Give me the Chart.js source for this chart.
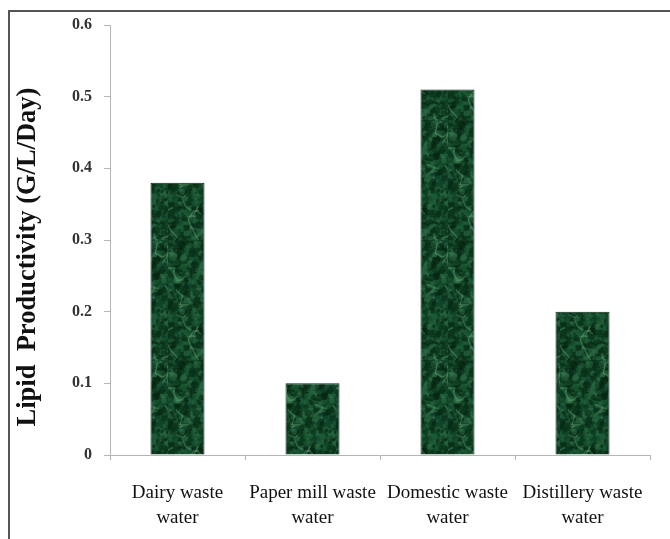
<!DOCTYPE html>
<html>
<head>
<meta charset="utf-8">
<script src="https://cdn.jsdelivr.net/npm/chart.js@4/dist/chart.umd.min.js"></script>
<style>
  html, body { margin: 0; padding: 0; background: #fff; }
  #wrap { position: relative; width: 670px; height: 539px; }
  #frame { position: absolute; left: 8px; top: 10px; right: 0; bottom: 0;
           border-left: 2px solid #555; border-top: 2px solid #555; pointer-events: none; }
  canvas { position: absolute; left: 0; top: 0; }
</style>
</head>
<body>
<div id="wrap">
  <canvas id="chart" width="670" height="539"></canvas>
  <div id="frame"></div>
</div>
<script>
const categories = [
  ["Dairy waste", "water"],
  ["Paper mill waste", "water"],
  ["Domestic waste", "water"],
  ["Distillery waste", "water"]
];
const lipidProductivity = [0.38, 0.10, 0.51, 0.20];
const yTicks = [0, 0.1, 0.2, 0.3, 0.4, 0.5, 0.6];
const yTitle = 'Lipid  Productivity (G/L/Day)';

// mossy dark green texture for the bars (seeded so it is the same every run)
function makeTexture(ctx) {
  const c = document.createElement('canvas');
  c.width = 56; c.height = 120;
  const g = c.getContext('2d');
  g.fillStyle = '#11432a';
  g.fillRect(0, 0, c.width, c.height);
  let seed = 11;
  const rnd = () => { seed = (seed * 16807) % 2147483647; return seed / 2147483647; };
  const tones = ['rgba(6,34,16,0.55)', 'rgba(30,95,55,0.45)', 'rgba(10,52,26,0.6)', 'rgba(60,130,85,0.3)'];
  for (let i = 0; i < 900; i++) {
    g.fillStyle = tones[Math.floor(rnd() * tones.length)];
    g.beginPath();
    g.arc(rnd() * 56, rnd() * 120, 1 + rnd() * 3, 0, Math.PI * 2);
    g.fill();
  }
  g.strokeStyle = 'rgba(120,185,135,0.35)';
  g.lineWidth = 1.5;
  g.lineCap = 'round';
  for (let i = 0; i < 12; i++) {
    g.beginPath();
    let x = rnd() * 56, y = rnd() * 120;
    g.moveTo(x, y);
    for (let k = 0; k < 5; k++) {
      x += (rnd() - 0.5) * 14; y += (rnd() - 0.3) * 14;
      g.lineTo(x, y);
    }
    g.stroke();
  }
  return ctx.createPattern(c, 'repeat');
}

const ctx = document.getElementById('chart').getContext('2d');
const serif = '"Liberation Serif", "DejaVu Serif", serif';

// y title drawn a little below the plot's middle, as in the source figure
const yTitlePlugin = {
  id: 'yTitle',
  afterDraw(chart) {
    const c = chart.ctx;
    c.save();
    c.translate(28, 257);
    c.rotate(-Math.PI / 2);
    c.font = 'bold 26.5px ' + serif;
    c.fillStyle = '#111';
    c.textAlign = 'center';
    c.textBaseline = 'middle';
    c.fillText(yTitle, 0, 0);
    c.restore();
  }
};

new Chart(ctx, {
  type: 'bar',
  data: {
    labels: categories,
    datasets: [{
      data: lipidProductivity,
      backgroundColor: makeTexture(ctx),
      borderColor: '#0a2614',
      borderWidth: 1,
      categoryPercentage: 1,
      barPercentage: 0.4
    }]
  },
  plugins: [yTitlePlugin],
  options: {
    animation: false,
    responsive: false,
    layout: { padding: { top: 25, right: 20, left: 0, bottom: 0 } },
    plugins: { legend: { display: false }, tooltip: { enabled: false } },
    scales: {
      x: {
        afterFit: s => { s.height = 84; },
        border: { color: '#b5b5b5', width: 1 },
        grid: { display: true, drawOnChartArea: false, drawTicks: true, tickLength: 5, color: '#b5b5b5', offset: true },
        ticks: { color: '#111', font: { family: serif, size: 19, lineHeight: 1.32 }, padding: 20, maxRotation: 0, autoSkip: false }
      },
      y: {
        min: 0, max: 0.6,
        afterFit: s => { s.width = 110; },
        afterBuildTicks: s => { s.ticks = yTicks.map(v => ({ value: v })); },
        border: { color: '#b5b5b5', width: 1 },
        grid: { display: true, drawOnChartArea: false, drawTicks: true, tickLength: 6, color: '#b5b5b5' },
        ticks: { color: '#333', font: { family: serif, size: 16, weight: 'bold' }, padding: 12,
                 callback: v => v === 0 ? '0' : String(v) }
      }
    }
  }
});
</script>
</body>
</html>
